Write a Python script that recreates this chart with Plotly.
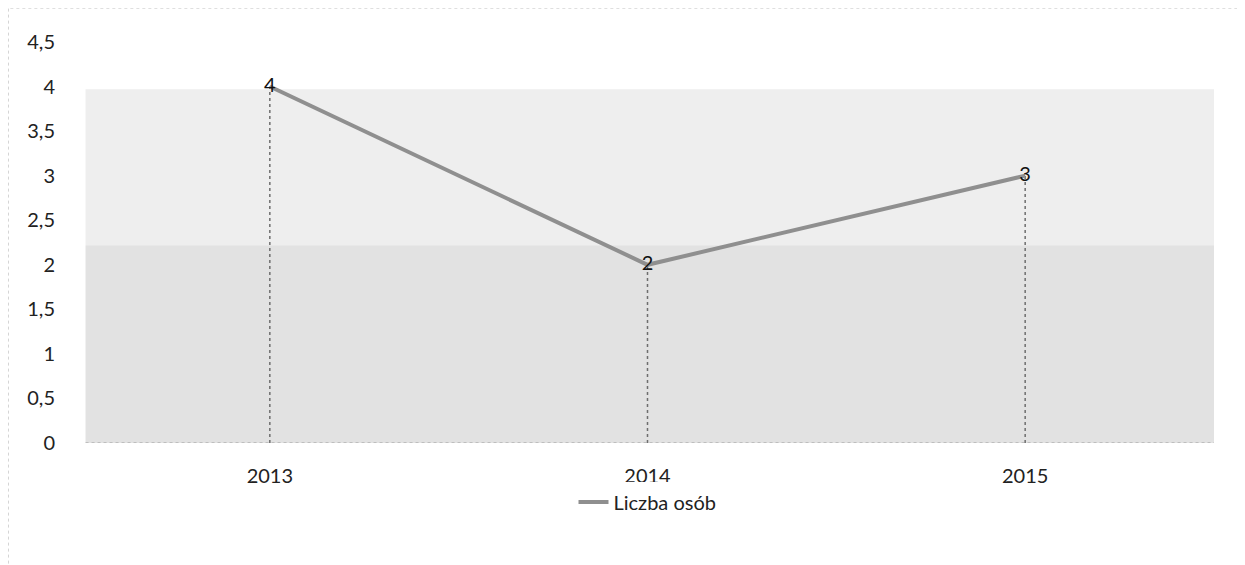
import plotly.graph_objects as go

categories = ["2013", "2014", "2015"]
values = [4, 2, 3]
series_name = "Liczba osób"
y_tick_vals = [0, 0.5, 1, 1.5, 2, 2.5, 3, 3.5, 4, 4.5]
y_tick_text = ["0", "0,5", "1", "1,5", "2", "2,5", "3", "3,5", "4", "4,5"]

FONT = "Lato, Open Sans, sans-serif"
FS = 20

fig = go.Figure()

# drop lines from each point to the axis
for c, v in zip(categories, values):
    fig.add_trace(go.Scatter(
        x=[c, c], y=[0, v], mode="lines",
        line=dict(color="#6e6e6e", width=1.5, dash="dot"),
        showlegend=False, hoverinfo="skip"))

fig.add_trace(go.Scatter(
    x=categories, y=values, name=series_name,
    mode="lines+text", text=[str(v) for v in values],
    textposition="middle center",
    textfont=dict(family=FONT, size=FS, color="#111111"),
    line=dict(color="#8f8f8f", width=4),
))

shapes = [
    # scanned halftone background (upper lighter, lower darker)
    dict(type="rect", xref="paper", yref="y", x0=0.004, x1=1.0, y0=2.22, y1=3.97,
         fillcolor="#eeeeee", line=dict(width=0), layer="below"),
    dict(type="rect", xref="paper", yref="y", x0=0.004, x1=1.0, y0=0, y1=2.22,
         fillcolor="#e2e2e2", line=dict(width=0), layer="below"),
    # x axis line
    dict(type="line", xref="paper", yref="y", x0=0.004, x1=1.0, y0=0, y1=0,
         line=dict(color="#9a9a9a", width=1, dash="dot"), layer="below"),
    # outer chart border
    dict(type="rect", xref="paper", yref="paper",
         x0=-0.0644, x1=1.0247, y0=-0.33, y1=1.085,
         line=dict(color="#b0b0b0", width=1, dash="dot"), fillcolor="rgba(0,0,0,0)"),
]

fig.update_layout(
    width=1237, height=557,
    margin=dict(l=73, r=31, t=34, b=122),
    paper_bgcolor="white", plot_bgcolor="white",
    font=dict(family=FONT, size=FS, color="#222222"),
    shapes=shapes,
    showlegend=True,
    legend=dict(orientation="h", x=0.5, xanchor="center", y=-0.147, yanchor="middle",
                font=dict(family=FONT, size=FS, color="#222222")),
    xaxis=dict(type="category", range=[-0.5, 2.5], showgrid=False, zeroline=False,
               showline=False, ticks="outside", ticklen=15, tickcolor="rgba(0,0,0,0)",
               tickfont=dict(family=FONT, size=FS, color="#222222")),
    yaxis=dict(range=[0, 4.5], tickvals=y_tick_vals, ticktext=y_tick_text,
               showgrid=False, zeroline=False, showline=False,
               ticks="outside", ticklen=21, tickcolor="rgba(0,0,0,0)",
               tickfont=dict(family=FONT, size=FS, color="#222222")),
)

fig.write_html("out.html")
